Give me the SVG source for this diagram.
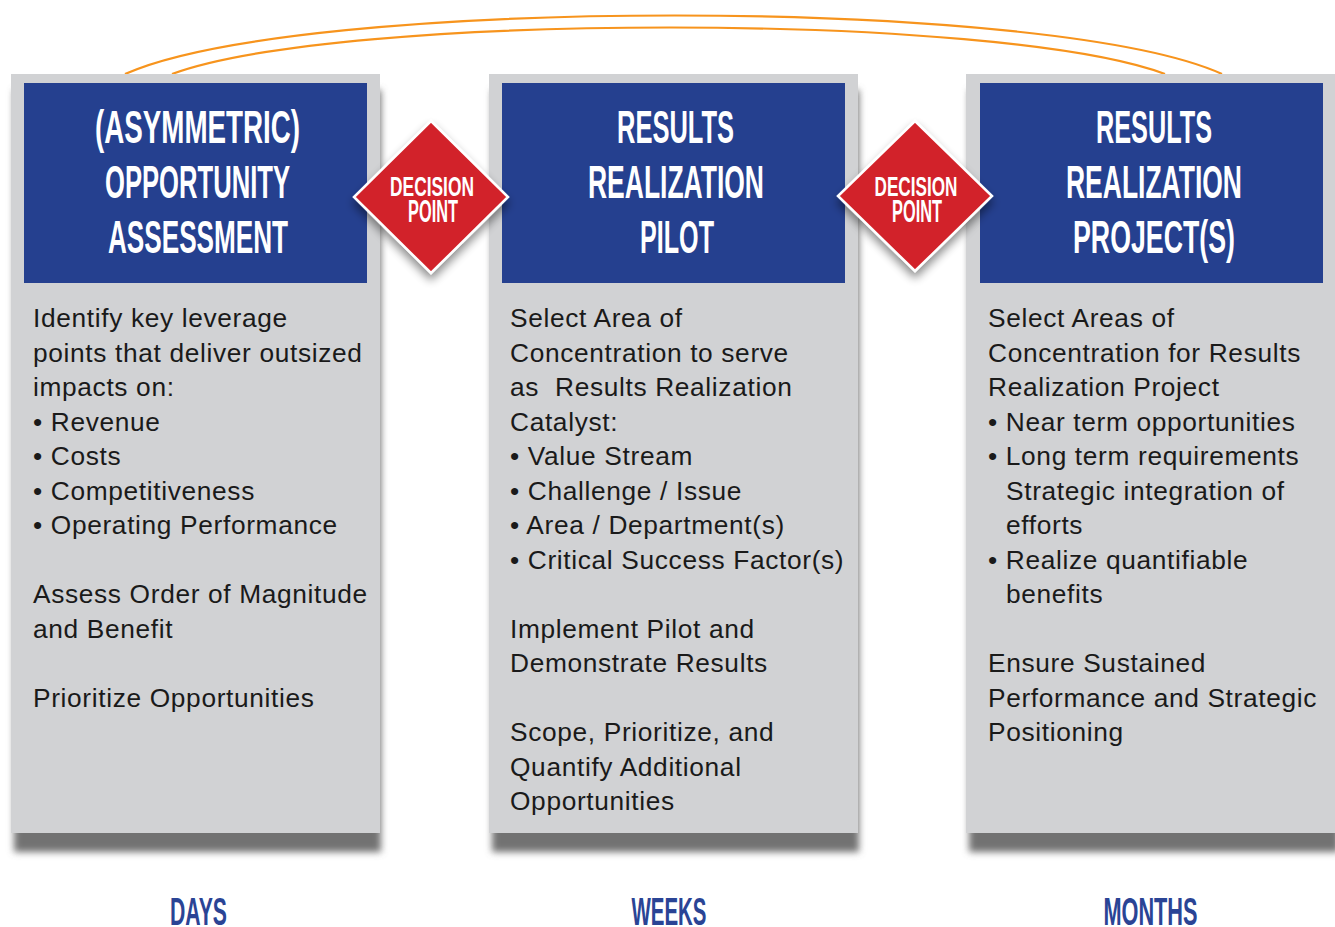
<svg xmlns="http://www.w3.org/2000/svg" width="1335" height="927" viewBox="0 0 1335 927">
<defs>
<filter id="blur" x="-10%" y="-10%" width="120%" height="120%"><feGaussianBlur stdDeviation="3.5"/></filter>
<filter id="dshadow" x="-30%" y="-30%" width="160%" height="170%">
<feGaussianBlur in="SourceAlpha" stdDeviation="5"/>
<feOffset dx="0" dy="6" result="b"/>
<feComponentTransfer><feFuncA type="linear" slope="0.45"/></feComponentTransfer>
<feMerge><feMergeNode/><feMergeNode in="SourceGraphic"/></feMerge>
</filter>
<style>
.panel{fill:#D1D2D4}
.shadow{fill:#727272;filter:url(#blur)}
.head{fill:#25408F}
.ht{font-family:"Liberation Sans",Arial,sans-serif;font-weight:bold;font-size:46px;fill:#FFFFFF;text-anchor:middle}
.body{font-family:"Liberation Sans",Arial,Helvetica,sans-serif;font-size:26.3px;fill:#1A1A1A;letter-spacing:0.65px}
.dia{fill:#D2232A;stroke:#FFFFFF;stroke-width:2.5;filter:url(#dshadow)}
.dt{font-family:"Liberation Sans",Arial,sans-serif;font-weight:bold;fill:#FFFFFF;text-anchor:middle}
.arc{fill:none;stroke:#F7941D;stroke-width:2.2}
.lab{font-family:"Liberation Sans",Arial,sans-serif;font-weight:bold;font-size:39px;fill:#2A4495;text-anchor:middle}
</style>
</defs>
<rect width="1335" height="927" fill="#FFFFFF"/>
<g id="connectors">
<path class="arc" d="M125,74 C300,-4 1050,-4 1222,74"/>
<path class="arc" d="M172,74 C340,12 1000,12 1165,74"/>
</g>
<g id="panel1">
<rect class="shadow" x="14" y="90" width="367" height="762"/>
<rect class="panel" x="11" y="74" width="369" height="759"/>
<rect class="head" x="24" y="83" width="343" height="200"/>
<text class="ht" x="197.5" y="143" textLength="205" lengthAdjust="spacingAndGlyphs">(ASYMMETRIC)</text>
<text class="ht" x="197.5" y="198" textLength="185" lengthAdjust="spacingAndGlyphs">OPPORTUNITY</text>
<text class="ht" x="198" y="253" textLength="180" lengthAdjust="spacingAndGlyphs">ASSESSMENT</text>
<text class="body">
<tspan x="33" y="327">Identify key leverage</tspan>
<tspan x="33" y="361.5">points that deliver outsized</tspan>
<tspan x="33" y="396">impacts on:</tspan>
<tspan x="33" y="430.5">• Revenue</tspan>
<tspan x="33" y="465">• Costs</tspan>
<tspan x="33" y="499.5">• Competitiveness</tspan>
<tspan x="33" y="534">• Operating Performance</tspan>
<tspan x="33" y="603">Assess Order of Magnitude</tspan>
<tspan x="33" y="637.5">and Benefit</tspan>
<tspan x="33" y="706.5">Prioritize Opportunities</tspan>
</text>
</g>
<g id="panel2">
<rect class="shadow" x="492" y="90" width="367" height="762"/>
<rect class="panel" x="489" y="74" width="369" height="759"/>
<rect class="head" x="502" y="83" width="343" height="200"/>
<text class="ht" x="675.5" y="143" textLength="117" lengthAdjust="spacingAndGlyphs">RESULTS</text>
<text class="ht" x="676" y="198" textLength="176" lengthAdjust="spacingAndGlyphs">REALIZATION</text>
<text class="ht" x="677" y="253" textLength="74" lengthAdjust="spacingAndGlyphs">PILOT</text>
<text class="body">
<tspan x="510" y="327">Select Area of</tspan>
<tspan x="510" y="361.5">Concentration to serve</tspan>
<tspan x="510" y="396" xml:space="preserve">as  Results Realization</tspan>
<tspan x="510" y="430.5">Catalyst:</tspan>
<tspan x="510" y="465">• Value Stream</tspan>
<tspan x="510" y="499.5">• Challenge / Issue</tspan>
<tspan x="510" y="534">• Area / Department(s)</tspan>
<tspan x="510" y="568.5">• Critical Success Factor(s)</tspan>
<tspan x="510" y="637.5">Implement Pilot and</tspan>
<tspan x="510" y="672">Demonstrate Results</tspan>
<tspan x="510" y="741">Scope, Prioritize, and</tspan>
<tspan x="510" y="775.5">Quantify Additional</tspan>
<tspan x="510" y="810">Opportunities</tspan>
</text>
</g>
<g id="panel3">
<rect class="shadow" x="969" y="90" width="370" height="762"/>
<rect class="panel" x="966" y="74" width="369" height="759"/>
<rect class="head" x="980" y="83" width="343" height="200"/>
<text class="ht" x="1154" y="143" textLength="116" lengthAdjust="spacingAndGlyphs">RESULTS</text>
<text class="ht" x="1154" y="198" textLength="176" lengthAdjust="spacingAndGlyphs">REALIZATION</text>
<text class="ht" x="1154" y="253" textLength="162" lengthAdjust="spacingAndGlyphs">PROJECT(S)</text>
<text class="body">
<tspan x="988" y="327">Select Areas of</tspan>
<tspan x="988" y="361.5">Concentration for Results</tspan>
<tspan x="988" y="396">Realization Project</tspan>
<tspan x="988" y="430.5">• Near term opportunities</tspan>
<tspan x="988" y="465">• Long term requirements</tspan>
<tspan x="1006" y="499.5">Strategic integration of</tspan>
<tspan x="1006" y="534">efforts</tspan>
<tspan x="988" y="568.5">• Realize quantifiable</tspan>
<tspan x="1006" y="603">benefits</tspan>
<tspan x="988" y="672">Ensure Sustained</tspan>
<tspan x="988" y="706.5">Performance and Strategic</tspan>
<tspan x="988" y="741">Positioning</tspan>
</text>
</g>
<g id="decision1">
<polygon class="dia" points="431,121 508,197 431,273 354,197"/>
<text class="dt" x="432" y="196" font-size="28" textLength="84" lengthAdjust="spacingAndGlyphs">DECISION</text>
<text class="dt" x="433" y="222" font-size="31" textLength="50" lengthAdjust="spacingAndGlyphs">POINT</text>
</g>
<g id="decision2">
<polygon class="dia" points="915,121 992,196 915,271 838,196"/>
<text class="dt" x="916" y="196" font-size="28" textLength="83" lengthAdjust="spacingAndGlyphs">DECISION</text>
<text class="dt" x="917" y="222" font-size="31" textLength="50" lengthAdjust="spacingAndGlyphs">POINT</text>
</g>
<g id="labels">
<text class="lab" x="198.5" y="925" textLength="57" lengthAdjust="spacingAndGlyphs">DAYS</text>
<text class="lab" x="669" y="925" textLength="75" lengthAdjust="spacingAndGlyphs">WEEKS</text>
<text class="lab" x="1150.5" y="925" textLength="94" lengthAdjust="spacingAndGlyphs">MONTHS</text>
</g>
</svg>
